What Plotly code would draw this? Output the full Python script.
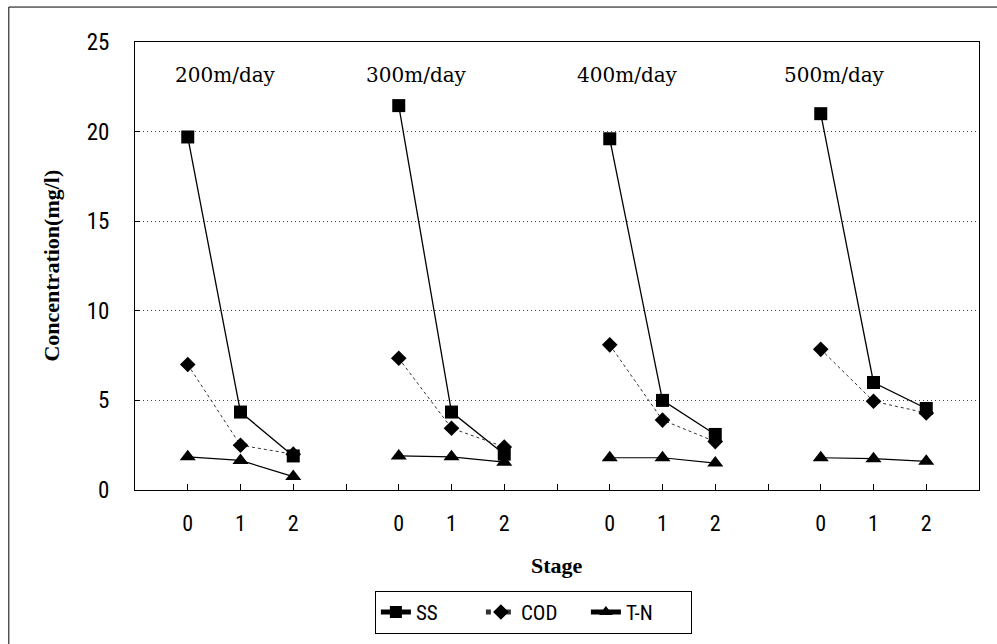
import plotly.graph_objects as go

groups = ["200m/day", "300m/day", "400m/day", "500m/day"]
stages = ["0", "1", "2"]
SS = [[19.7, 4.35, 1.9], [21.45, 4.35, 2.0], [19.6, 5.0, 3.1], [21.0, 6.0, 4.55]]
COD = [[7.0, 2.5, 2.0], [7.35, 3.45, 2.4], [8.1, 3.9, 2.7], [7.85, 4.95, 4.3]]
TN = [[1.85, 1.65, 0.75], [1.9, 1.85, 1.55], [1.8, 1.8, 1.5], [1.8, 1.75, 1.6]]
label_x = [0.72, 4.33, 8.33, 12.27]

slot = len(stages) + 1  # one empty category between groups


def flatten(series):
    xs, ys = [], []
    for g, vals in enumerate(series):
        for s, v in enumerate(vals):
            xs.append(g * slot + s)
            ys.append(v)
        xs.append(None)
        ys.append(None)
    return xs, ys


tickvals = list(range(slot * len(groups) - 1))
ticktext = [stages[i % slot] if i % slot < len(stages) else "" for i in tickvals]

NARROW = "Liberation Sans Narrow, Arial Narrow, Roboto Condensed, Liberation Sans, sans-serif"
SERIF = "Liberation Serif, Times New Roman, serif"

fig = go.Figure()
specs = [
    ("SS", SS, "square", 13, dict(color="black", width=1.3)),
    ("COD", COD, "diamond", 12, dict(color="#333333", width=1, dash="dot")),
    ("T-N", TN, "triangle-up", 14, dict(color="black", width=1.2)),
]
for name, data, sym, size, line in specs:
    xs, ys = flatten(data)
    fig.add_trace(go.Scatter(
        x=xs, y=ys, name=name, mode="lines+markers",
        line=line, connectgaps=False,
        marker=dict(symbol=sym, size=size, color="black"),
    ))

for lx, g in zip(label_x, groups):
    fig.add_annotation(x=lx, y=23.15, xref="x", yref="y", text=g, showarrow=False,
                       font=dict(family="DejaVu Serif, serif", size=20, color="black"))

fig.add_annotation(x=-0.100, y=0.5, xref="paper", yref="paper", xanchor="center", yanchor="middle",
                   text="<b>Concentration(mg/l)</b>",
                   textangle=-90, showarrow=False, font=dict(family=SERIF, size=22, color="black"))
fig.add_annotation(x=0.5, y=-0.168, xref="paper", yref="paper", text="<b>Stage</b>",
                   xanchor="center", yanchor="middle",
                   showarrow=False, font=dict(family=SERIF, size=22, color="black"))

# outer frame (left and top edges visible)
fig.add_shape(type="line", xref="paper", yref="paper", x0=-0.1495, x1=1.05, y0=1.078, y1=1.078,
              line=dict(color="black", width=1))
fig.add_shape(type="line", xref="paper", yref="paper", x0=-0.1495, x1=-0.1495, y0=-0.4, y1=1.078,
              line=dict(color="black", width=1))

fig.update_layout(
    width=997, height=644,
    margin=dict(l=135, r=18, t=42, b=154, autoexpand=False),
    paper_bgcolor="white", plot_bgcolor="white",
    showlegend=True,
    legend=dict(orientation="h", xref="container", yref="container",
                x=0.535, xanchor="center", y=0.0825, yanchor="top",
                bordercolor="black", borderwidth=1, font=dict(family=NARROW, size=21, color="black"),
                itemsizing="constant", tracegroupgap=0, entrywidth=60, entrywidthmode="pixels"),
    font=dict(family=NARROW, color="black"),
)
fig.update_xaxes(range=[-1, len(tickvals)], tickvals=tickvals, ticktext=ticktext, automargin=False,
                 showgrid=False, zeroline=False, showline=True, linecolor="black", linewidth=1,
                 mirror=True, ticks="inside", ticklen=6, tickcolor="black", ticklabelstandoff=14,
                 tickfont=dict(family=NARROW, size=22, color="black"))
fig.update_yaxes(range=[0, 25], tickvals=[0, 5, 10, 15, 20, 25], showgrid=True, automargin=False,
                 gridcolor="#444444", griddash="1px,3px", gridwidth=1, zeroline=False,
                 showline=True, linecolor="black", linewidth=1, mirror=True,
                 ticks="inside", ticklen=5, tickcolor="black", ticklabelstandoff=20,
                 tickfont=dict(family=NARROW, size=23, color="black"))

fig.write_html("out.html", config={"displayModeBar": False},
               post_script="document.body.style.margin='0';document.body.style.overflow='hidden';")
